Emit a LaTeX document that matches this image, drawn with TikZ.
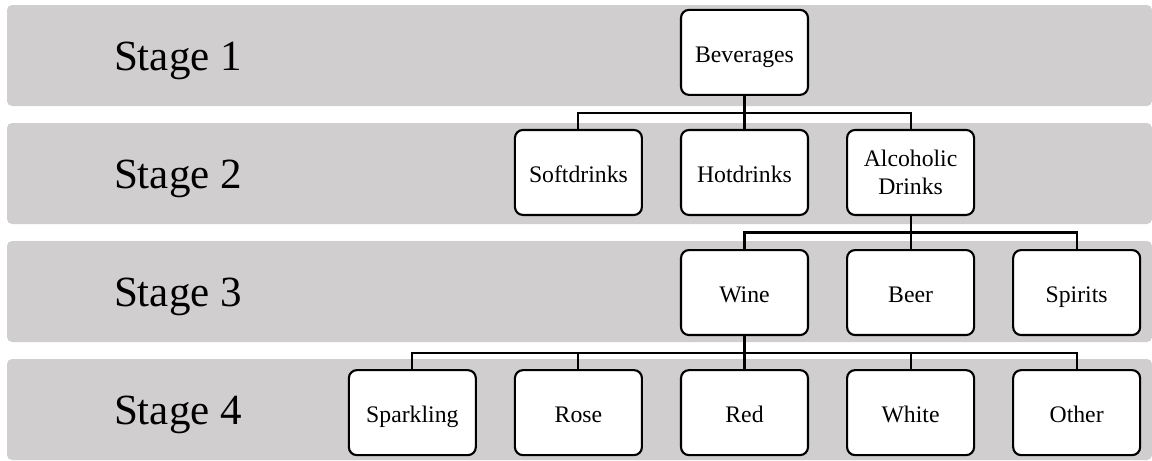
\documentclass[tikz,border=0pt]{standalone}
\usepackage{fontspec}
\setmainfont{Liberation Serif}
\usepackage{tikz}
\usetikzlibrary{positioning}
\usepackage{xcolor}
\definecolor{bandgray}{RGB}{208,206,207}

\begin{document}
\begin{tikzpicture} [
		x=0.02cm, y=0.02cm,
		band/.style     = { fill=bandgray, rounded corners=1mm },
		stage/.style    = { anchor=base, font=\fontsize{24.5}{28}\selectfont },
		block/.style    = { rectangle, draw=black, line width=1.2pt,
			fill=white, align=center, inner sep=1pt,
			text height=14pt, text depth=3pt,
			rounded corners=1.6mm, minimum width=25.4mm, minimum height=17mm,
			font=\fontsize{13.5}{15.5}\selectfont },
		line/.style     = { draw, line width=1.2pt },
		]
		\useasboundingbox (0,0) rectangle (1152,-460);
		% grey bands with the stage names
		\foreach \n in {1,...,4} {
			\fill[band] (7,{-5-118*(\n-1)}) rectangle (1152,{-106-118*(\n-1)});
			\node [stage] (stage\n) at (178,{-70-118*(\n-1)}) {Stage \n};
		}
		% Define nodes in a matrix
		\matrix [column sep=7.4mm, row sep=6.6mm] at (744.5,-232.5) {
			
			& & \node [block] (bev) {Beverages}; & & \\
			& \node [block] (soft) {Softdrinks}; & \node [block] (hot) {Hotdrinks}; & \node [block, text height=, text depth=] (alc) {Alcoholic\\ Drinks}; & \\
			& & \node [block] (wine) {Wine}; & \node [block] (beer) {Beer}; & \node [block] (spirits) {Spirits}; \\
			\node [block] (spark) {Sparkling}; & \node [block] (rose) {Rose}; & \node [block] (red) {Red}; & \node [block] (white) {White}; & \node [block] (other) {Other}; \\
		};
		% connect all nodes defined above
		\begin{scope} [every path/.style=line]
		\foreach \c in {soft,hot,alc}
			\path (bev.south) -- ++(0,-17) -| (\c.north);
		\foreach \c in {wine,beer,spirits}
			\path (alc.south) -- ++(0,-16.5) -| (\c.north);
		% Draw the links below wine
		\foreach \c in {spark,rose,red,white,other}
			\path (wine.south) -- ++(0,-17) -| (\c.north);
		\end{scope}
		\end{tikzpicture}
\end{document}
